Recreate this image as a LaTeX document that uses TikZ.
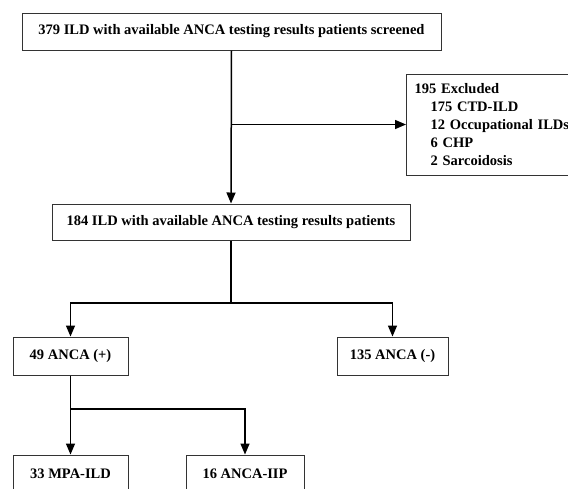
\documentclass[tikz,border=0pt]{standalone}
\usepackage{fontspec}
\setmainfont{Liberation Serif}
\usetikzlibrary{
    arrows.meta,
%    positioning,
}

\begin{document}
\begin{tikzpicture}
        [
            x = 1pt, y = -1pt,
            box/.style = {draw=black!80, line width = 1pt, rectangle, inner sep = 0pt, minimum height = 37pt, font = \fontsize{14.5}{18}\selectfont\bfseries},
            flow/.style = {line width = 1.5pt, -{Triangle[length = 11pt, width = 9pt]}},
            link/.style = {line width = 1.5pt}
        ]
        \useasboundingbox (0, 0) rectangle (568, 488);
        \node[box, minimum width = 419pt] (screened) at (231.5, 31.5) {379 ILD with available ANCA testing results patients screened};
        \node[box, minimum width = 358pt, minimum height = 36pt] (cohort) at (231, 222) {184 ILD with available ANCA testing results patients};
        \node[box, anchor = west, minimum height = 101pt, text width = 164pt, inner xsep = 8pt, align = left] (excluded) at (406, 124.5)
            {195 Excluded\\ \hspace*{16pt}175 CTD-ILD\\ \hspace*{16pt}12 Occupational ILDs\\ \hspace*{16pt}6 CHP\\ \hspace*{16pt}2 Sarcoidosis};
        \node[box, minimum width = 115pt, minimum height = 38pt] (pos) at (70.5, 356) {49 ANCA (+)};
        \node[box, minimum width = 111pt, minimum height = 38pt] (neg) at (392.5, 356) {135 ANCA (-)};
        \node[box, minimum width = 115pt] (mpa) at (70.5, 473.5) {33 MPA-ILD};
        \node[box, minimum width = 118pt] (iip) at (245, 473.5) {16 ANCA-IIP};
        % splits
        \coordinate (split1) at (screened.south |- excluded.west);
        \coordinate (split2) at (231, 303);
        \coordinate (split3) at (70.5, 409);
        \draw[flow] (screened.south) -- (cohort.north);
        \draw[flow] (split1) -- (excluded.west);
        \draw[link] (cohort.south) -- (split2);
        \draw[flow] (split2) -| (pos.north);
        \draw[flow] (split2) -| (neg.north);
        \draw[link] (pos.south) -- (split3);
        \draw[flow] (split3) -| (mpa.north);
        \draw[flow] (split3) -| (iip.north);
    \end{tikzpicture}
\end{document}
